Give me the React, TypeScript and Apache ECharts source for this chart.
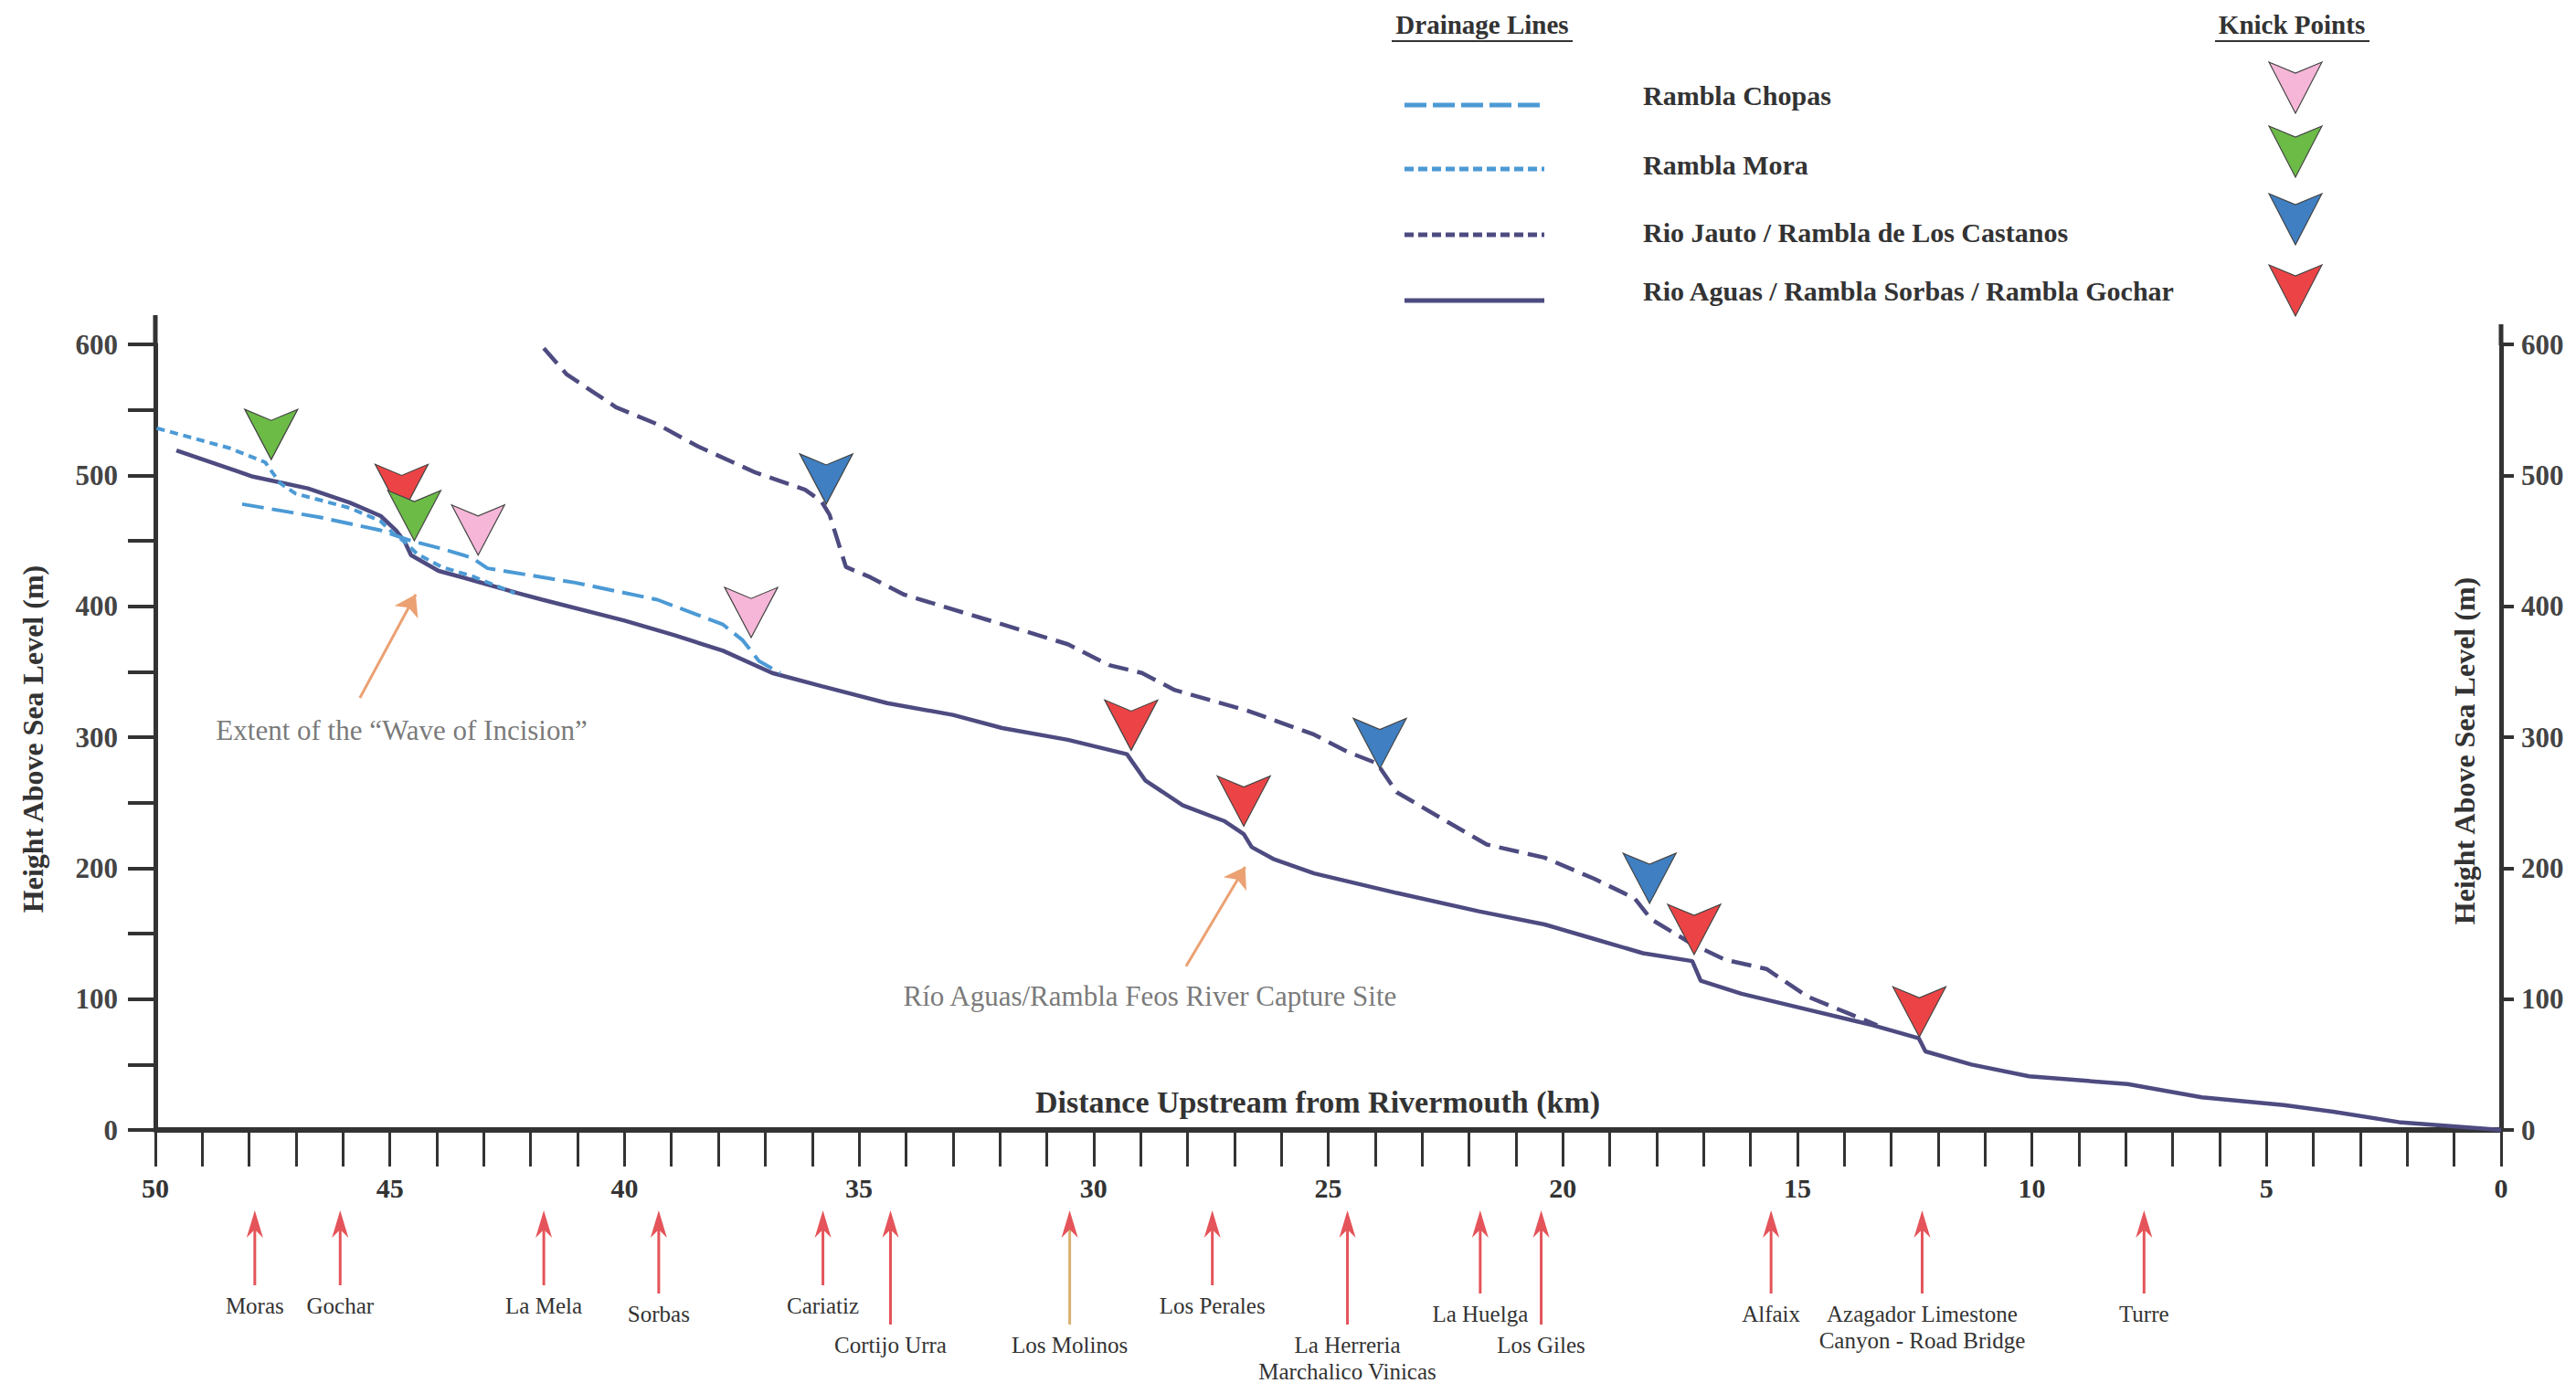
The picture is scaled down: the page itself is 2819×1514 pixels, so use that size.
import React, { useEffect, useRef } from 'react';
import * as echarts from 'echarts';

const FONT = "'Liberation Serif', 'Times New Roman', serif";

// ---- Drainage line profiles (distance upstream km, height m) ----
const aguasKm = [49.55, 47.92, 46.75, 45.85, 45.2, 44.87, 44.68, 44.55, 43.96, 43.25, 42.27, 41.75, 40.0, 38.95, 37.9, 36.85, 35.8, 34.4, 33.0, 31.95, 30.55, 29.29, 28.9, 28.1, 27.22, 26.8, 26.63, 26.17, 25.3, 23.54, 21.79, 20.39, 19.34, 18.29, 17.24, 17.06, 16.19, 14.79, 13.39, 12.41, 12.27, 11.29, 10.06, 7.96, 6.38, 4.63, 3.58, 2.18, 0];
const aguasH = [519, 499, 490, 479, 469, 458, 449, 439, 427, 420, 410, 405, 389, 378, 366, 349, 339, 326, 317, 307, 298, 287, 267, 248, 236, 226, 216, 207, 196, 181, 167, 157, 146, 135, 129, 114, 104, 92, 80, 70, 60, 50, 41, 35, 25, 19, 14, 6, 0];

const jautoKm = [41.72, 41.23, 40.18, 39.3, 38.43, 37.2, 36.15, 35.8, 35.63, 35.28, 34.75, 34.05, 32.3, 30.55, 29.67, 28.97, 28.27, 26.7, 25.3, 24.6, 23.96, 23.54, 22.49, 21.62, 20.39, 19.34, 18.47, 18.12, 17.24, 16.54, 15.66, 14.79, 13.91, 13.3];
const jautoH = [597, 577, 552, 539, 522, 502, 489, 480, 470, 430, 422, 409, 390, 371, 355, 349, 336, 320, 302, 289, 280, 258, 236, 218, 208, 192, 177, 161, 142, 130, 123, 102, 89, 80];

const chopasKm = [48.15, 46.5, 45.2, 44.55, 43.9, 43.25, 42.92, 41.05, 39.3, 37.9, 37.48, 37.13, 36.68];
const chopasH = [478, 468, 458, 450, 444, 437, 429, 418, 405, 386, 374, 358, 349];

const moraKm = [49.97, 48.44, 47.66, 47.34, 47.01, 45.85, 45.2, 44.94, 44.68, 44.42, 43.9, 43.25, 42.34];
const moraH = [536, 521, 510, 494, 486, 475, 465, 456, 449, 440, 430, 423, 410];

// ---- Knick points (km, m) ----
const knickPink = [[43.12, 439], [37.3, 376]];
const knickRed = [[44.75, 470], [29.2, 290], [26.8, 232], [17.2, 134], [12.4, 71]];
const knickGreen = [[47.53, 512], [44.48, 450]];
const knickBlue = [[35.7, 478], [23.9, 276], [18.15, 173]];

// ---- Annotations ----
const waveArrow = [[45.64, 330], [44.45, 409]];
const captureArrow = [[28.03, 125], [26.77, 201]];
const noteTexts = ['Extent of the \u201CWave of Incision\u201D', 'R\u00EDo Aguas/Rambla Feos River Capture Site'];
const notePos = [[44.75, 305], [28.8, 102]];

// ---- Places along the valley ----
const placeNames = ['Moras', 'Gochar', 'La Mela', 'Sorbas', 'Cariatiz', 'Cortijo Urra', 'Los Molinos', 'Los Perales', 'La Herreria\nMarchalico Vinicas', 'La Huelga', 'Los Giles', 'Alfaix', 'Azagador Limestone\nCanyon - Road Bridge', 'Turre'];
const placeKm = [47.88, 46.06, 41.72, 39.27, 35.77, 34.33, 30.51, 27.47, 24.59, 21.76, 20.46, 15.56, 12.34, 7.61];
// layout row of each place label (0 near, 1 slightly lower, 2 far)
const placeRow = [0, 0, 0, 1, 0, 2, 2, 0, 2, 1, 2, 1, 1, 1];

// ---- Legend ----
const legendNames = ['Rambla Chopas', 'Rambla Mora', 'Rio Jauto / Rambla de Los Castanos', 'Rio Aguas / Rambla Sorbas / Rambla Gochar'];

const C_DARK = '#4D4B80';
const C_LIGHT = '#4C9AD5';
const C_PINK = '#F6B6D8';
const C_GREEN = '#6CBB47';
const C_BLUE = '#3F7FC2';
const C_RED = '#EC4446';
const C_ORANGE = '#EBA172';
const C_ARROW = '#E4545A';
const C_TAN = '#D8B070';
const C_AXIS = '#333333';
const KNICK_PATH = 'path://M0,0 L50,22 L100,0 L50,100 Z';

const zip = (a: number[], b: number[]) => a.map((v, i) => [v, b[i]]);

function knickSeries(name: string, data: number[][], color: string) {
  return {
    type: 'scatter',
    name,
    data,
    symbol: KNICK_PATH,
    symbolSize: [58, 55],
    symbolOffset: [0, '-50%'],
    itemStyle: { color, borderColor: '#444', borderWidth: 1.2, opacity: 1 },
    z: 4,
    silent: true,
  };
}

function buildGraphic() {
  const els: any[] = [];
  const txt = (text: string, x: number, y: number, font: string, fill: string, align = 'left', rot = 0) => {
    const el: any = {
      type: 'text',
      style: { text, x: 0, y: 0, font, fill, align, verticalAlign: 'middle', textAlign: align, textVerticalAlign: 'middle' },
      x,
      y,
    };
    if (rot) el.rotation = rot;
    return el;
  };
  // Headers
  els.push(txt('Drainage Lines', 1622, 27, `bold 29px ${FONT}`, '#333', 'center'));
  els.push({ type: 'line', shape: { x1: 1523, y1: 45, x2: 1721, y2: 45 }, style: { stroke: '#333', lineWidth: 2 } });
  els.push(txt('Knick Points', 2508, 27, `bold 29px ${FONT}`, '#333', 'center'));
  els.push({ type: 'line', shape: { x1: 2424, y1: 45, x2: 2593, y2: 45 }, style: { stroke: '#333', lineWidth: 2 } });

  const lineY = [115, 185, 257, 329];
  const textY = [104, 180, 254, 318];
  const lineColors = [C_LIGHT, C_LIGHT, C_DARK, C_DARK];
  const lineDash: any[] = [[24, 7], [10, 5], [10, 5], null];
  const knickTop = [68, 138, 212, 290];
  const knickColors = [C_PINK, C_GREEN, C_BLUE, C_RED];
  legendNames.forEach((n, i) => {
    els.push({
      type: 'line',
      shape: { x1: 1537, y1: lineY[i], x2: 1690, y2: lineY[i] },
      style: { stroke: lineColors[i], lineWidth: 5, lineDash: lineDash[i] || undefined },
    });
    els.push(txt(n, 1798, textY[i], `bold 30px ${FONT}`, '#333', 'left'));
    const cx = 2512, y0 = knickTop[i];
    els.push({
      type: 'polygon',
      shape: { points: [[cx - 29, y0], [cx, y0 + 12], [cx + 29, y0], [cx, y0 + 56]] },
      style: { fill: knickColors[i], stroke: '#444', lineWidth: 1.2 },
    });
  });

  // Axis titles
  els.push(txt('Height Above Sea Level (m)', 36, 809, `bold 32px ${FONT}`, '#333', 'center', Math.PI / 2));
  els.push(txt('Height Above Sea Level (m)', 2697, 822, `bold 32px ${FONT}`, '#333', 'center', Math.PI / 2));
  els.push(txt('Distance Upstream from Rivermouth (km)', 1442, 1206, `bold 34px ${FONT}`, '#333', 'center'));

  // axis line extensions above 600 m
  els.push({ type: 'line', shape: { x1: 170, y1: 345, x2: 170, y2: 378 }, style: { stroke: C_AXIS, lineWidth: 5 } });
  els.push({ type: 'line', shape: { x1: 2737, y1: 355, x2: 2737, y2: 378 }, style: { stroke: C_AXIS, lineWidth: 5 } });
  return els;
}

const rowLabelOffset = [192, 201, 235];

export default function App() {
  const ref = useRef<HTMLDivElement>(null);
  useEffect(() => {
    if (!ref.current) return;
    const chart = echarts.init(ref.current, null, { renderer: 'svg' });
    const option: any = {
      animation: false,
      backgroundColor: '#ffffff',
      grid: { left: 170, right: 82, top: 377, bottom: 277, containLabel: false },
      xAxis: {
        type: 'value',
        min: 0,
        max: 50,
        interval: 1,
        inverse: true,
        axisLine: { show: true, onZero: false, lineStyle: { color: C_AXIS, width: 6 } },
        axisTick: { show: true, inside: false, length: 40, lineStyle: { color: C_AXIS, width: 3 } },
        axisLabel: {
          margin: 48,
          formatter: (v: number) => (v % 5 === 0 ? String(v) : ''),
          fontFamily: FONT,
          fontWeight: 'bold',
          fontSize: 30,
          color: '#333',
        },
        splitLine: { show: false },
      },
      yAxis: [
        {
          type: 'value',
          position: 'left',
          min: 0,
          max: 600,
          interval: 50,
          axisLine: { show: true, onZero: false, lineStyle: { color: C_AXIS, width: 5 } },
          axisTick: { show: true, inside: false, length: 30, lineStyle: { color: C_AXIS, width: 4 } },
          axisLabel: {
            margin: 41,
            formatter: (v: number) => (v % 100 === 0 ? String(v) : ''),
            fontFamily: FONT,
            fontWeight: 'bold',
            fontSize: 31,
            color: '#444',
          },
          splitLine: { show: false },
        },
        {
          type: 'value',
          position: 'right',
          min: 0,
          max: 600,
          interval: 100,
          axisLine: { show: true, onZero: false, lineStyle: { color: C_AXIS, width: 5 } },
          axisTick: { show: true, inside: false, length: 14, lineStyle: { color: C_AXIS, width: 4 } },
          axisLabel: {
            margin: 22,
            fontFamily: FONT,
            fontWeight: 'bold',
            fontSize: 31,
            color: '#444',
          },
          splitLine: { show: false },
        },
      ],
      series: [
        {
          type: 'line', name: legendNames[3], data: zip(aguasKm, aguasH), symbol: 'none',
          lineStyle: { color: C_DARK, width: 4.5 }, z: 2, silent: true,
        },
        {
          type: 'line', name: legendNames[2], data: zip(jautoKm, jautoH), symbol: 'none',
          lineStyle: { color: C_DARK, width: 4.5, type: [22, 10] }, z: 2, silent: true,
        },
        {
          type: 'line', name: legendNames[0], data: zip(chopasKm, chopasH), symbol: 'none',
          lineStyle: { color: C_LIGHT, width: 4, type: [24, 9] }, z: 3, silent: true,
        },
        {
          type: 'line', name: legendNames[1], data: zip(moraKm, moraH), symbol: 'none',
          lineStyle: { color: C_LIGHT, width: 4, type: [9, 6] }, z: 3, silent: true,
        },
        knickSeries('Knick Chopas', knickPink, C_PINK),
        knickSeries('Knick Aguas', knickRed, C_RED),
        knickSeries('Knick Mora', knickGreen, C_GREEN),
        knickSeries('Knick Jauto', knickBlue, C_BLUE),
        {
          type: 'lines',
          coordinateSystem: 'cartesian2d',
          data: [{ coords: waveArrow }, { coords: captureArrow }],
          symbol: ['none', 'arrow'],
          symbolSize: [10, 22],
          lineStyle: { color: C_ORANGE, width: 3, opacity: 1 },
          silent: true,
          z: 5,
        },
        {
          type: 'scatter',
          data: notePos.map((p, i) => ({ value: p, name: noteTexts[i] })),
          symbolSize: 1,
          itemStyle: { color: 'rgba(0,0,0,0)' },
          label: {
            show: true,
            position: 'inside',
            formatter: (p: any) => p.name,
            fontFamily: FONT,
            fontSize: 31,
            color: '#555',
          },
          silent: true,
          z: 5,
        },
        {
          type: 'custom',
          clip: false,
          silent: true,
          data: placeKm.map((k, i) => [k, 0, i]),
          renderItem: (params: any, api: any) => {
            const idx = params.dataIndex;
            const pt = api.coord([api.value(0), 0]);
            const x = pt[0];
            const y0 = pt[1];
            const labelY = y0 + rowLabelOffset[placeRow[idx]];
            const top = y0 + 88;
            const bottom = labelY - 22;
            const headLen = 30;
            const headW = 9;
            const shaft = placeNames[idx] === 'Los Molinos' ? C_TAN : C_ARROW;
            return {
              type: 'group',
              children: [
                { type: 'line', shape: { x1: x, y1: top + 14, x2: x, y2: bottom }, style: { stroke: shaft, lineWidth: 3 } },
                {
                  type: 'polygon',
                  shape: { points: [[x, top], [x - headW, top + headLen], [x, top + headLen - 9], [x + headW, top + headLen]] },
                  style: { fill: C_ARROW },
                },
                {
                  type: 'text',
                  style: {
                    text: placeNames[idx],
                    x,
                    y: labelY - 14.5,
                    align: 'center',
                    verticalAlign: 'top',
                    textAlign: 'center',
                    textVerticalAlign: 'top',
                    font: `25px ${FONT}`,
                    lineHeight: 29,
                    fill: '#333',
                  },
                },
              ],
            };
          },
          z: 5,
        },
      ],
      graphic: { elements: buildGraphic() },
    };
    chart.setOption(option);
    return () => chart.dispose();
  }, []);
  return <div ref={ref} style={{ position: 'fixed', left: 0, top: 0, width: 2819, height: 1514, background: '#fff' }} />;
}
